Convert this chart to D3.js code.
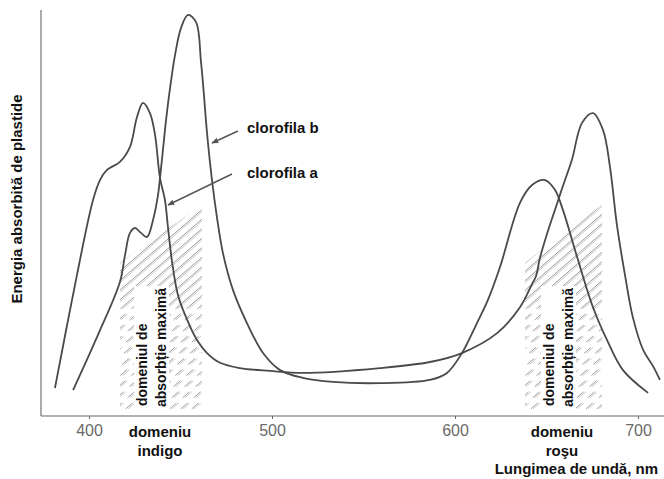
<!DOCTYPE html>
<html><head><meta charset="utf-8">
<script src="https://cdn.jsdelivr.net/npm/d3@7"></script>
<style>
body{margin:0;background:#fff}
svg{display:block}
text{font-family:"Liberation Sans",Arial,Helvetica,sans-serif}
</style>
</head><body>
<svg id="c" width="664" height="479"></svg>
<script>
// ---- data ----
const xTicks = [400, 500, 600, 700];
const chlA_nm  = [381.4,393.4,402.2,406.0,409.8,416.9,422.4,426.2,429.5,433.3,436.1,438.8,441.5,443.2,445.4,448.6,452.5,459.0,464.5,471.6,482.5,498.9,516.9,559.0,586.3,603.8,623.0,635.5,642.1,644.3,646.4,651.3,655.7,659.0,663.9,669.4,675.4,680.9,684.7,688.5,692.9,697.3,702.8,708.2,712.0];
const chlA_abs = [6.9,34.7,53.2,58.1,60.6,62.6,66.3,73.6,77.1,74.6,69.2,58.6,53.2,46.3,37.9,29.8,24.9,18.7,15.5,13.1,11.8,11.1,10.6,11.8,13.3,15.5,20.4,26.8,32.5,34.5,38.9,46.3,52.2,56.7,63.1,72.2,74.6,70.4,61.3,47.0,34.7,24.1,16.3,12.3,8.9];
const chlB_nm  = [391.3,404.9,416.9,419.7,422.4,425.1,428.4,431.7,435.0,437.7,438.8,440.4,442.1,444.3,447.0,450.3,454.1,458.5,461.2,462.8,464.5,467.2,469.9,473.2,478.7,486.3,495.1,504.4,516.9,533.3,559.0,586.3,595.6,603.8,612.0,618.0,624.6,635.5,642.1,649.2,654.6,659.0,666.7,675.4,683.1,691.8,705.5];
const chlB_abs = [6.4,20.0,33.0,39.7,45.1,46.3,45.1,44.1,48.3,54.4,58.6,65.5,72.9,80.8,88.9,95.6,98.8,97.0,87.2,79.1,69.7,58.1,49.0,40.1,31.0,22.9,15.5,11.3,9.4,8.4,8.1,8.9,10.6,15.5,22.9,28.6,36.7,52.5,56.9,58.1,55.7,50.7,39.2,26.8,18.7,11.3,5.7];
// absorption bands: start nm, end nm, top value at start, top value at end
const bandStart = [416.9, 638.3];
const bandEnd   = [461.7, 680.3];
const bandTopL  = [37.9, 37.9];
const bandTopR  = [52.0, 52.0];
const bandNames = ["indigo", "roşu"];

// ---- drawing ----
const svg = d3.select('#c');
const x = d3.scaleLinear().domain([400, 700]).range([89, 638]);
const y = d3.scaleLinear().domain([0, 100]).range([416, 10]);
const ink = '#4a4a4a';
const defs = svg.append('defs');

// hatch bands
bandStart.forEach((s, i) => {
  const x0 = x(s), x1 = x(bandEnd[i]);
  const yt0 = y(bandTopL[i]), yt1 = y(bandTopR[i]), yb = y(0.8);
  const split = 305;
  const up = defs.append('clipPath').attr('id', 'hu' + i);
  up.append('polygon').attr('points', [[x0, yt0], [x1, yt1], [x1, split], [x0, split]].map(p => p.join(',')).join(' '));
  const lo = defs.append('clipPath').attr('id', 'hl' + i);
  lo.append('polygon').attr('points', [[x0, split], [x1, split], [x1, yb], [x0, yb]].map(p => p.join(',')).join(' '));
  const g = svg.append('g');
  const mk = (clip, dash) => {
    const gg = g.append('g').attr('clip-path', `url(#${clip})`);
    for (let c = -260; c < 120; c += 11) {
      for (const [off, col, w] of [[0, '#9a9a9a', 1], [2.3, '#c4c4c4', 0.9]]) {
        gg.append('line')
          .attr('x1', x0 + c + off).attr('y1', 420)
          .attr('x2', x0 + c + off + 260).attr('y2', 420 - 225)
          .attr('stroke', col).attr('stroke-width', w)
          .attr('stroke-dasharray', dash);
      }
    }
  };
  mk('hu' + i, null);
  mk('hl' + i, '9,8');
});

// white boxes behind rotated band texts
const colText = [
  {xc: [142, 161]}, {xc: [549, 568]}
];
colText.forEach((c, i) => {
  svg.append('rect').attr('x', c.xc[0] - 8).attr('y', 286).attr('width', c.xc[1] - c.xc[0] + 16).attr('height', 124).attr('fill', '#fff');
  svg.append('text').attr('transform', `translate(${c.xc[0]},406) rotate(-90)`).attr('dy', '0.36em')
    .attr('font-size', 14).attr('font-weight', 'bold').attr('fill', '#111').text('domeniul de');
  svg.append('text').attr('transform', `translate(${c.xc[1]},407) rotate(-90)`).attr('dy', '0.36em')
    .attr('font-size', 14).attr('font-weight', 'bold').attr('fill', '#111').text('absorbție maximă');
});

// axes
svg.append('line').attr('x1', 41).attr('y1', 10).attr('x2', 41).attr('y2', 416).attr('stroke', '#666').attr('stroke-width', 1.1);
svg.append('line').attr('x1', 41).attr('y1', 416).attr('x2', 664).attr('y2', 416).attr('stroke', '#666').attr('stroke-width', 1.1);
const ax = svg.append('g').attr('transform', 'translate(0,416)')
  .call(d3.axisBottom(x).tickValues(xTicks).tickSize(3).tickPadding(6).tickFormat(d3.format('d')));
ax.select('.domain').remove();
ax.selectAll('line').attr('stroke', '#666');
ax.selectAll('text').attr('font-size', 16).attr('fill', '#6a6a6a').attr('font-family', '"Liberation Sans",Arial,sans-serif');

// curves
const line = d3.line().x(d => x(d[0])).y(d => y(d[1])).curve(d3.curveCatmullRom.alpha(0.5));
svg.append('path').datum(d3.zip(chlA_nm, chlA_abs)).attr('d', line).attr('fill', 'none').attr('stroke', ink).attr('stroke-width', 1.8);
svg.append('path').datum(d3.zip(chlB_nm, chlB_abs)).attr('d', line).attr('fill', 'none').attr('stroke', ink).attr('stroke-width', 1.8);

// arrows
defs.append('marker').attr('id', 'ah').attr('viewBox', '0 0 10 10').attr('refX', 9).attr('refY', 5)
  .attr('markerWidth', 7).attr('markerHeight', 7).attr('orient', 'auto-start-reverse').attr('markerUnits', 'userSpaceOnUse')
  .append('path').attr('d', 'M0,1 L10,5 L0,9 z').attr('fill', '#555');
svg.append('line').attr('x1', 238).attr('y1', 131).attr('x2', 212).attr('y2', 143).attr('stroke', '#555').attr('stroke-width', 1.4).attr('marker-end', 'url(#ah)');
svg.append('line').attr('x1', 232).attr('y1', 174).attr('x2', 168).attr('y2', 205).attr('stroke', '#555').attr('stroke-width', 1.4).attr('marker-end', 'url(#ah)');

// labels
const T = (t, xx, yy, opts = {}) => svg.append('text').attr('x', xx).attr('y', yy)
  .attr('font-size', opts.size || 15).attr('font-weight', 'bold').attr('fill', '#111')
  .attr('text-anchor', opts.anchor || 'start').text(t);
T('clorofila b', 247, 133);
T('clorofila a', 247, 178);
T('domeniu', 160, 437, {anchor: 'middle'});
T(bandNames[0], 160, 456, {anchor: 'middle'});
T('domeniu', 562, 437, {anchor: 'middle'});
T(bandNames[1], 562, 456, {anchor: 'middle'});
T('Lungimea de undă, nm', 658, 474, {anchor: 'end'});
svg.append('text').attr('transform', 'translate(17,199) rotate(-90)').attr('dy', '0.36em')
  .attr('text-anchor', 'middle').attr('font-size', 15).attr('font-weight', 'bold').attr('fill', '#111')
  .text('Energia absorbită de plastide');
</script>
</body></html>
